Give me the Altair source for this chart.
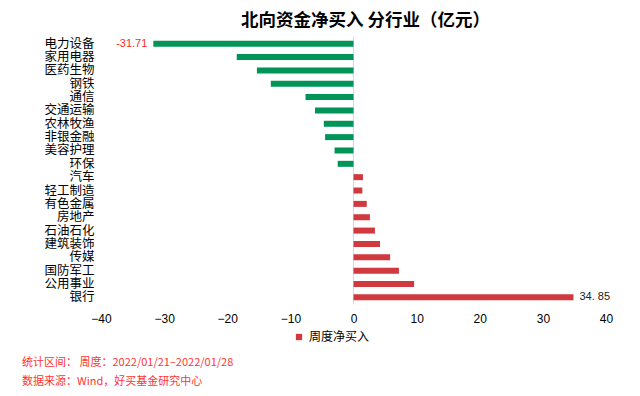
import altair as alt
import pandas as pd

categories = ["电力设备", "家用电器", "医药生物", "钢铁", "通信", "交通运输", "农林牧渔",
              "非银金融", "美容护理", "环保", "汽车", "轻工制造", "有色金属", "房地产",
              "石油石化", "建筑装饰", "传媒", "国防军工", "公用事业", "银行"]
values = [-31.71, -18.5, -15.3, -13.1, -7.6, -6.1, -4.7, -4.5, -3.0, -2.5,
          1.5, 1.4, 2.1, 2.6, 3.4, 4.2, 5.8, 7.2, 9.6, 34.85]
value_labels = ["-31.71", "", "", "", "", "", "", "", "", "", "", "", "", "", "", "", "", "", "", "34. 85"]
series_name = "周度净买入"
title_text = "北向资金净买入 分行业（亿元）"
note1 = "统计区间：  周度：2022/01/21–2022/01/28"
note2 = "数据来源：Wind，好买基金研究中心"

df = pd.DataFrame({"cat": categories, "val": values, "lab": value_labels})
df["series"] = series_name

FONT = "Noto Sans CJK SC"
RED = "#D0393E"
GREEN = "#009458"

y_enc = alt.Y("cat:N", scale=alt.Scale(domain=categories),
              axis=alt.Axis(title=None, ticks=False, domain=False, labelFont=FONT,
                            labelFontSize=12.5, labelColor="#000", labelPadding=7))
x_enc = alt.X("val:Q", scale=alt.Scale(domain=[-40, 40], nice=False, zero=False),
              axis=alt.Axis(title=None, values=list(range(-40, 41, 10)), grid=False,
                            domain=False, ticks=False, labelFont="Liberation Sans",
                            labelFontSize=12, labelColor="#000", labelPadding=9,
                            labelFlush=False))

base = alt.Chart(df)

zero = base.mark_rule(color="#D9D9D9", strokeWidth=1).encode(x=alt.datum(0))

neg = base.transform_filter("datum.val < 0").mark_bar(size=6, color=GREEN).encode(
    x=x_enc, y=y_enc)

pos = base.transform_filter("datum.val >= 0").mark_bar(size=6).encode(
    x=x_enc, y=y_enc,
    color=alt.Color("series:N", scale=alt.Scale(domain=[series_name], range=[RED]),
                    legend=alt.Legend(title=None, orient="none", legendX=192, legendY=294,
                                      symbolType="square", symbolSize=40,
                                      labelFont=FONT, labelFontSize=12, labelColor="#000")))

lab_neg = base.transform_filter("datum.val < 0 && datum.lab != ''").mark_text(
    align="right", dx=-6, font="Liberation Sans", fontSize=11, color="#FF2A2A").encode(
    x=x_enc, y=y_enc, text="lab:N")

lab_pos = base.transform_filter("datum.val >= 0 && datum.lab != ''").mark_text(
    align="left", dx=6, font="Liberation Sans", fontSize=11, color="#222").encode(
    x=x_enc, y=y_enc, text="lab:N")

n1 = alt.Chart(pd.DataFrame({"t": [note1]})).mark_text(
    align="left", baseline="middle", font=FONT, fontSize=11, color="#FF3333").encode(
    x=alt.value(-79), y=alt.value(326), text="t:N")
n2 = alt.Chart(pd.DataFrame({"t": [note2]})).mark_text(
    align="left", baseline="middle", font=FONT, fontSize=11, color="#FF3333").encode(
    x=alt.value(-79), y=alt.value(345), text="t:N")

chart = alt.layer(zero, neg, pos, lab_neg, lab_pos, n1, n2).properties(
    width=505, height=267,
    padding={"left": 93, "top": 29, "right": 26, "bottom": 86},
    autosize=alt.AutoSizeParams(type="none"),
    title=alt.Title(title_text, font=FONT, fontSize=17.5, fontWeight="bold",
                    anchor="middle", dx=12, offset=7, color="#000"),
).configure_view(stroke=None)

chart.save("out.html", embed_options={"renderer": "svg", "actions": False})
